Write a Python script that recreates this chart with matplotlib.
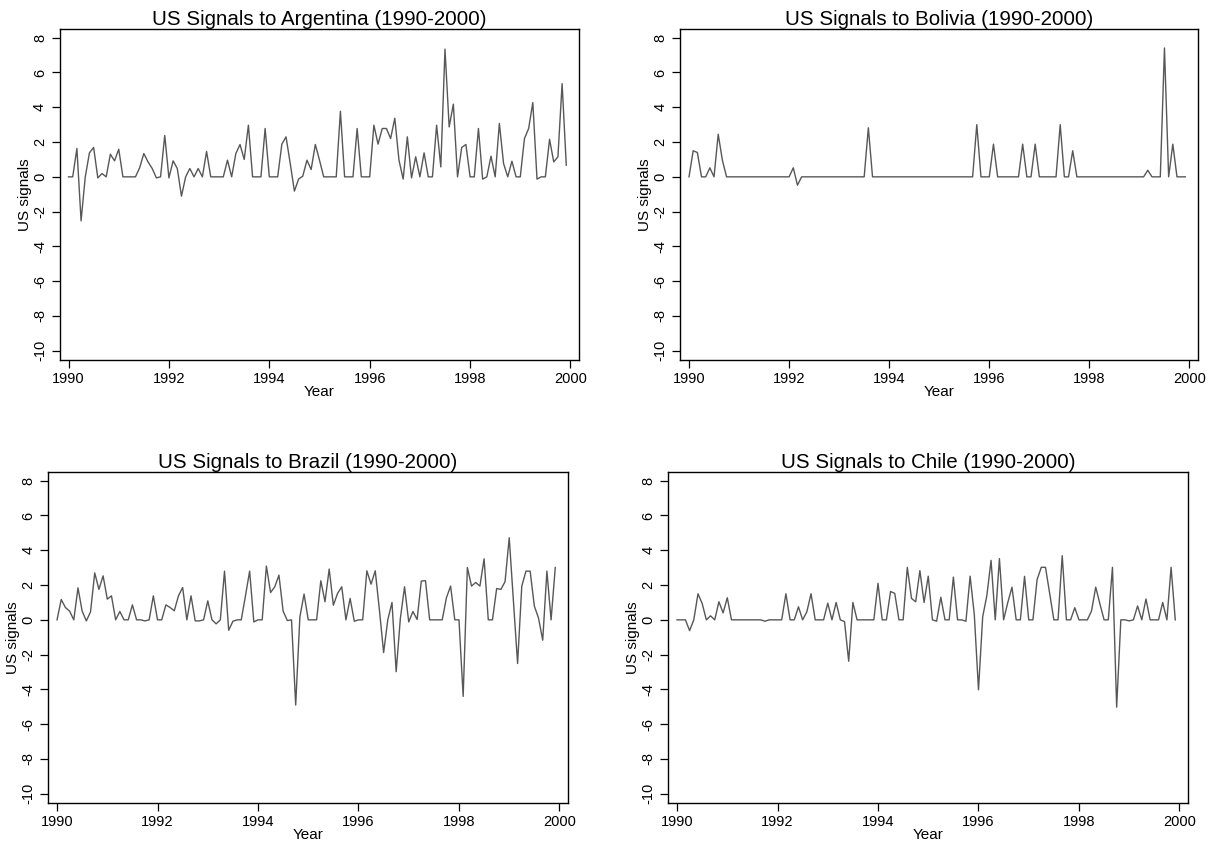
import numpy as np
import matplotlib
matplotlib.use("Agg")
import matplotlib.pyplot as plt

plt.rcParams['font.family'] = ['Liberation Sans', 'DejaVu Sans']

start_year = 1990
months_per_year = 12

argentina = [0, 0, 1.63, -2.53, 0, 1.38, 1.69, -0.06, 0.19, 0, 1.3, 0.92, 1.59, 0, 0, 0, 0, 0.52, 1.34, 0.86,
             0.48, -0.06, 0, 2.38, -0.06, 0.92, 0.48, -1.11, 0, 0.48, 0, 0.48, 0, 1.46, 0, 0, 0, 0, 0.96, 0,
             1.34, 1.86, 1.0, 2.97, 0, 0, 0, 2.78, 0, 0, 0, 1.88, 2.3, 0.77, -0.82, -0.13, 0.04, 0.96, 0.42, 1.86,
             0.96, 0, 0, 0, 0, 3.77, 0, 0, 0, 2.78, 0, 0, 0, 2.97, 1.88, 2.78, 2.78, 2.2, 3.37, 0.96,
             -0.13, 2.3, -0.06, 1.15, 0, 1.38, 0, 0, 2.97, 0.57, 7.34, 2.87, 4.18, 0, 1.69, 1.86, 0, 0, 2.78, -0.13,
             0, 1.19, 0, 3.07, 0.77, 0, 0.9, 0, 0, 2.2, 2.78, 4.27, -0.13, 0, 0, 2.16, 0.86, 1.15, 5.36, 0.67]

bolivia = [0, 1.5, 1.4, 0, 0, 0.52, 0, 2.45, 0.96, 0, 0, 0, 0, 0, 0, 0, 0, 0, 0, 0,
           0, 0, 0, 0, 0, 0.52, -0.48, 0, 0, 0, 0, 0, 0, 0, 0, 0, 0, 0, 0, 0,
           0, 0, 0, 2.82, 0, 0, 0, 0, 0, 0, 0, 0, 0, 0, 0, 0, 0, 0, 0, 0,
           0, 0, 0, 0, 0, 0, 0, 0, 0, 3.0, 0, 0, 0, 1.88, 0, 0, 0, 0, 0, 0,
           1.88, 0, 0, 1.88, 0, 0, 0, 0, 0, 3.0, 0, 0, 1.5, 0, 0, 0, 0, 0, 0, 0,
           0, 0, 0, 0, 0, 0, 0, 0, 0, 0, 0.38, 0, 0, 0, 7.41, 0, 1.88, 0, 0, 0]

brazil = [0, 1.17, 0.71, 0.5, 0, 1.84, 0.5, -0.06, 0.46, 2.7, 1.75, 2.53, 1.19, 1.38, 0, 0.48, 0, 0, 0.86, 0,
          0, -0.06, 0, 1.38, 0, 0, 0.86, 0.71, 0.52, 1.38, 1.86, 0, 1.38, -0.06, -0.06, 0, 1.09, 0, -0.23, 0,
          2.8, -0.6, -0.08, 0, 0, 1.38, 2.8, -0.12, 0, 0, 3.09, 1.57, 1.9, 2.57, 0.5, -0.04, 0, -4.9, 0.17, 1.48,
          0, 0, 0, 2.25, 1.04, 2.92, 0.84, 1.52, 1.9, 0, 1.23, -0.08, 0, 0, 2.82, 2.05, 2.82, 0.56, -1.88, 0,
          1.0, -2.98, 0.08, 1.9, -0.12, 0.48, 0.02, 2.23, 2.25, 0, 0, 0, 0, 1.27, 1.94, 0, 0, -4.4, 3.01, 1.94,
          2.15, 1.94, 3.51, 0, 0, 1.8, 1.75, 2.19, 4.72, 1.1, -2.51, 1.94, 2.8, 2.8, 0.79, 0.1, -1.17, 2.8, 0, 3.01]

chile = [0, 0, 0, -0.62, 0, 1.5, 0.94, 0, 0.23, 0, 1.04, 0.4, 1.27, 0, 0, 0, 0, 0, 0, 0,
         0, -0.08, 0, 0, 0, 0, 1.5, 0, 0, 0.75, 0, 0.46, 1.5, 0, 0, 0, 0.96, 0, 1.0, 0,
         -0.1, -2.38, 1.0, 0, 0, 0, 0, 0, 2.1, 0, 0, 1.63, 1.52, 0, 0, 3.02, 1.23, 1.04, 2.83, 1.0,
         2.51, 0, -0.08, 1.3, 0, 0, 2.46, 0, 0, -0.08, 2.51, 0.3, -4.02, 0.17, 1.4, 3.42, 0, 3.52, 0, 1.0,
         1.88, 0, 0, 2.5, 0, 0, 2.32, 3.02, 3.02, 1.52, 0, 0, 3.69, 0, 0, 0.7, 0, 0, 0, 0.51,
         1.88, 0.92, 0, 0, 3.02, -5.02, 0, 0, -0.06, 0, 0.8, 0, 1.2, 0, 0, 0, 1.0, 0, 3.02, 0]

titles = ["US Signals to Argentina (1990-2000)", "US Signals to Bolivia (1990-2000)",
          "US Signals to Brazil (1990-2000)", "US Signals to Chile (1990-2000)"]
series = [argentina, bolivia, brazil, chile]
xticks = [1990, 1992, 1994, 1996, 1998, 2000]
yticks = [8, 6, 4, 2, 0, -2, -4, -6, -8, -10]

W, H = 1208, 844
fig = plt.figure(figsize=(W / 100, H / 100), dpi=100)

# axes boxes in pixels: left, right, top, bottom
boxes = [(59.5, 579, 29, 360), (680, 1198, 29, 360), (48, 568, 472, 803), (668, 1188, 472, 803)]

for (l, r, t, b), title, vals in zip(boxes, titles, series):
    ax = fig.add_axes([l / W, 1 - b / H, (r - l) / W, (b - t) / H])
    x = start_year + np.arange(len(vals)) / months_per_year
    ax.plot(x, vals, color='#575757', lw=1.0)
    ax.set_xlim(1989.82, 2000.17)
    ax.set_ylim(-10.53, 8.5)
    ax.set_xticks(xticks)
    ax.set_yticks(yticks)
    ax.set_yticklabels([str(v) for v in yticks], rotation=90, va='center')
    ax.tick_params(direction='out', length=6, width=0.9, labelsize=10.5, colors='black', pad=3)
    for s in ax.spines.values():
        s.set_linewidth(1.0)
        s.set_color('black')
    ax.set_title(title, fontsize=14.8, pad=3)
    ax.set_xlabel("Year", fontsize=11, labelpad=-1)
    ax.set_ylabel("US signals", fontsize=11, labelpad=1)

fig.savefig("out.png", dpi=100)
